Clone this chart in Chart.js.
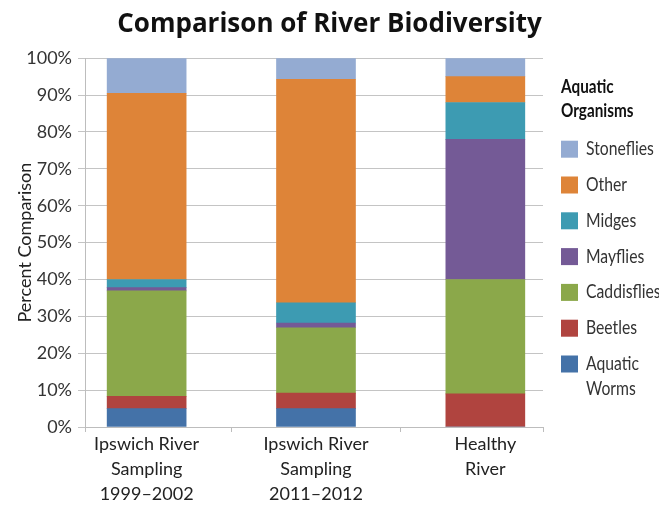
<!DOCTYPE html>
<html>
<head>
<meta charset="utf-8">
<script src="https://cdn.jsdelivr.net/npm/chart.js@4/dist/chart.umd.min.js"></script>
<style>
  html, body { margin: 0; padding: 0; background: #fff; }
  #wrap { width: 659px; height: 506px; position: relative; }
</style>
</head>
<body>
<div id="wrap"><canvas id="c" width="659" height="506"></canvas></div>
<script>
// Sampling sites (multi-line axis labels)
const categories = [
  ['Ipswich River', 'Sampling', '1999–2002'],
  ['Ipswich River', 'Sampling', '2011–2012'],
  ['Healthy', 'River']
];

// Percent of organisms found, per site (bottom of stack first)
const aquaticWorms = [5.0, 5.0, 0.0];
const beetles      = [3.3, 4.2, 9.0];
const caddisflies  = [28.6, 17.7, 31.0];
const mayflies     = [0.9, 1.3, 38.0];
const midges       = [2.2, 5.5, 10.0];
const other        = [50.5, 60.6, 7.0];
const stoneflies   = [9.5, 5.7, 5.0];

const yTicks = [0, 10, 20, 30, 40, 50, 60, 70, 80, 90, 100];

const seriesNames  = ['Aquatic Worms', 'Beetles', 'Caddisflies', 'Mayflies', 'Midges', 'Other', 'Stoneflies'];
const seriesValues = [aquaticWorms, beetles, caddisflies, mayflies, midges, other, stoneflies];
const seriesColors = ['#4472a8', '#b0443f', '#8ba84a', '#745a96', '#3d9bb2', '#de8438', '#94abd2'];

const FAM = "Lato, Roboto, sans-serif";
const KEY_SQUEEZE = 0.85; // narrow the key text horizontally

const datasets = seriesNames.map((name, k) => ({
  label: name,
  data: categories.map((c, i) => ({ x: i, y: seriesValues[k][i] })),
  backgroundColor: seriesColors[k],
  borderWidth: 0,
  barThickness: 79,
  stack: 'site'
}));

// wrap text into lines that fit maxWidth (after squeeze)
function wrapText(ctx, text, maxWidth) {
  const words = text.split(' ');
  const lines = [];
  let cur = '';
  words.forEach(w => {
    const test = cur ? cur + ' ' + w : w;
    if (cur && ctx.measureText(test).width * KEY_SQUEEZE > maxWidth) { lines.push(cur); cur = w; }
    else cur = test;
  });
  if (cur) lines.push(cur);
  return lines;
}

function squeezedText(ctx, text, x, y) {
  ctx.save();
  ctx.translate(x, y);
  ctx.scale(KEY_SQUEEZE, 1);
  ctx.fillText(text, 0, 0);
  ctx.restore();
}

// Side key listing organisms, top of stack first
const keyPanel = {
  id: 'keyPanel',
  afterDraw(chart) {
    const { ctx, chartArea } = chart;
    const x0 = chartArea.right + 18;
    const maxW = chart.width - x0 - 2;
    ctx.save();
    ctx.textAlign = 'left';
    ctx.textBaseline = 'middle';
    ctx.font = 'bold 18px ' + FAM;
    ctx.fillStyle = '#111';
    wrapText(ctx, 'Aquatic Organisms', 80).forEach((t, i) => {
      squeezedText(ctx, t, x0, chartArea.top + 29 + i * 24);
    });
    ctx.font = '18.5px ' + FAM;
    const items = chart.data.datasets.slice().reverse();
    items.forEach((ds, i) => {
      const y = chartArea.top + 91 + i * 35.8;
      ctx.fillStyle = ds.backgroundColor;
      ctx.fillRect(x0, y - 8.5, 17, 17);
      ctx.fillStyle = '#333';
      wrapText(ctx, ds.label, maxW - 25).forEach((t, j) => {
        squeezedText(ctx, t, x0 + 25, y + j * 25);
      });
    });
    ctx.restore();
  }
};

new Chart(document.getElementById('c'), {
  type: 'bar',
  data: { datasets },
  plugins: [keyPanel],
  options: {
    responsive: false,
    animation: false,
    devicePixelRatio: 1,
    layout: { padding: 0 },
    plugins: {
      legend: { display: false },
      tooltip: { enabled: false },
      title: {
        display: true,
        text: 'Comparison of River Biodiversity',
        color: '#111',
        font: { family: "'Open Sans', sans-serif", size: 26, weight: 'bold' },
        padding: { top: 9, bottom: 18 }
      }
    },
    scales: {
      x: {
        type: 'linear',
        stacked: true,
        offset: false,
        min: -0.364,
        max: 2.3405,
        afterBuildTicks: s => {
          s.ticks = [s.min, 0, 0.5, 1, 1.5, 2, s.max].map(v => ({ value: v }));
        },
        afterFit: s => { s.height = 79; },
        grid: {
          offset: false,
          drawOnChartArea: false,
          drawTicks: true,
          tickLength: 5,
          color: ctx => (ctx.tick && Number.isInteger(ctx.tick.value)) ? 'rgba(0,0,0,0)' : '#bdbdbd'
        },
        border: { color: '#bdbdbd', width: 1 },
        ticks: {
          autoSkip: false,
          maxRotation: 0,
          minRotation: 0,
          padding: 0,
          color: '#222',
          font: { family: FAM, size: 18, lineHeight: 1.39 },
          callback: v => Number.isInteger(v) ? categories[v] : ''
        }
      },
      y: {
        stacked: true,
        min: 0,
        max: 100,
        afterBuildTicks: s => { s.ticks = yTicks.map(v => ({ value: v })); },
        afterFit: s => { s.width = 85; },
        grid: { color: '#c4c4c4', lineWidth: 1, drawTicks: true, tickLength: 7 },
        border: { color: '#bdbdbd', width: 1 },
        ticks: {
          color: '#333',
          padding: 6,
          font: { family: FAM, size: 18 },
          callback: v => v + '%'
        },
        title: {
          display: true,
          text: 'Percent Comparison',
          color: '#222',
          font: { family: FAM, size: 18 },
          padding: { top: 14, bottom: 0 }
        }
      },
      keySpace: {
        type: 'linear',
        position: 'right',
        display: true,
        afterFit: s => { s.width = 116; },
        grid: { display: false },
        ticks: { display: false },
        border: { display: false }
      }
    }
  }
});
</script>
</body>
</html>
